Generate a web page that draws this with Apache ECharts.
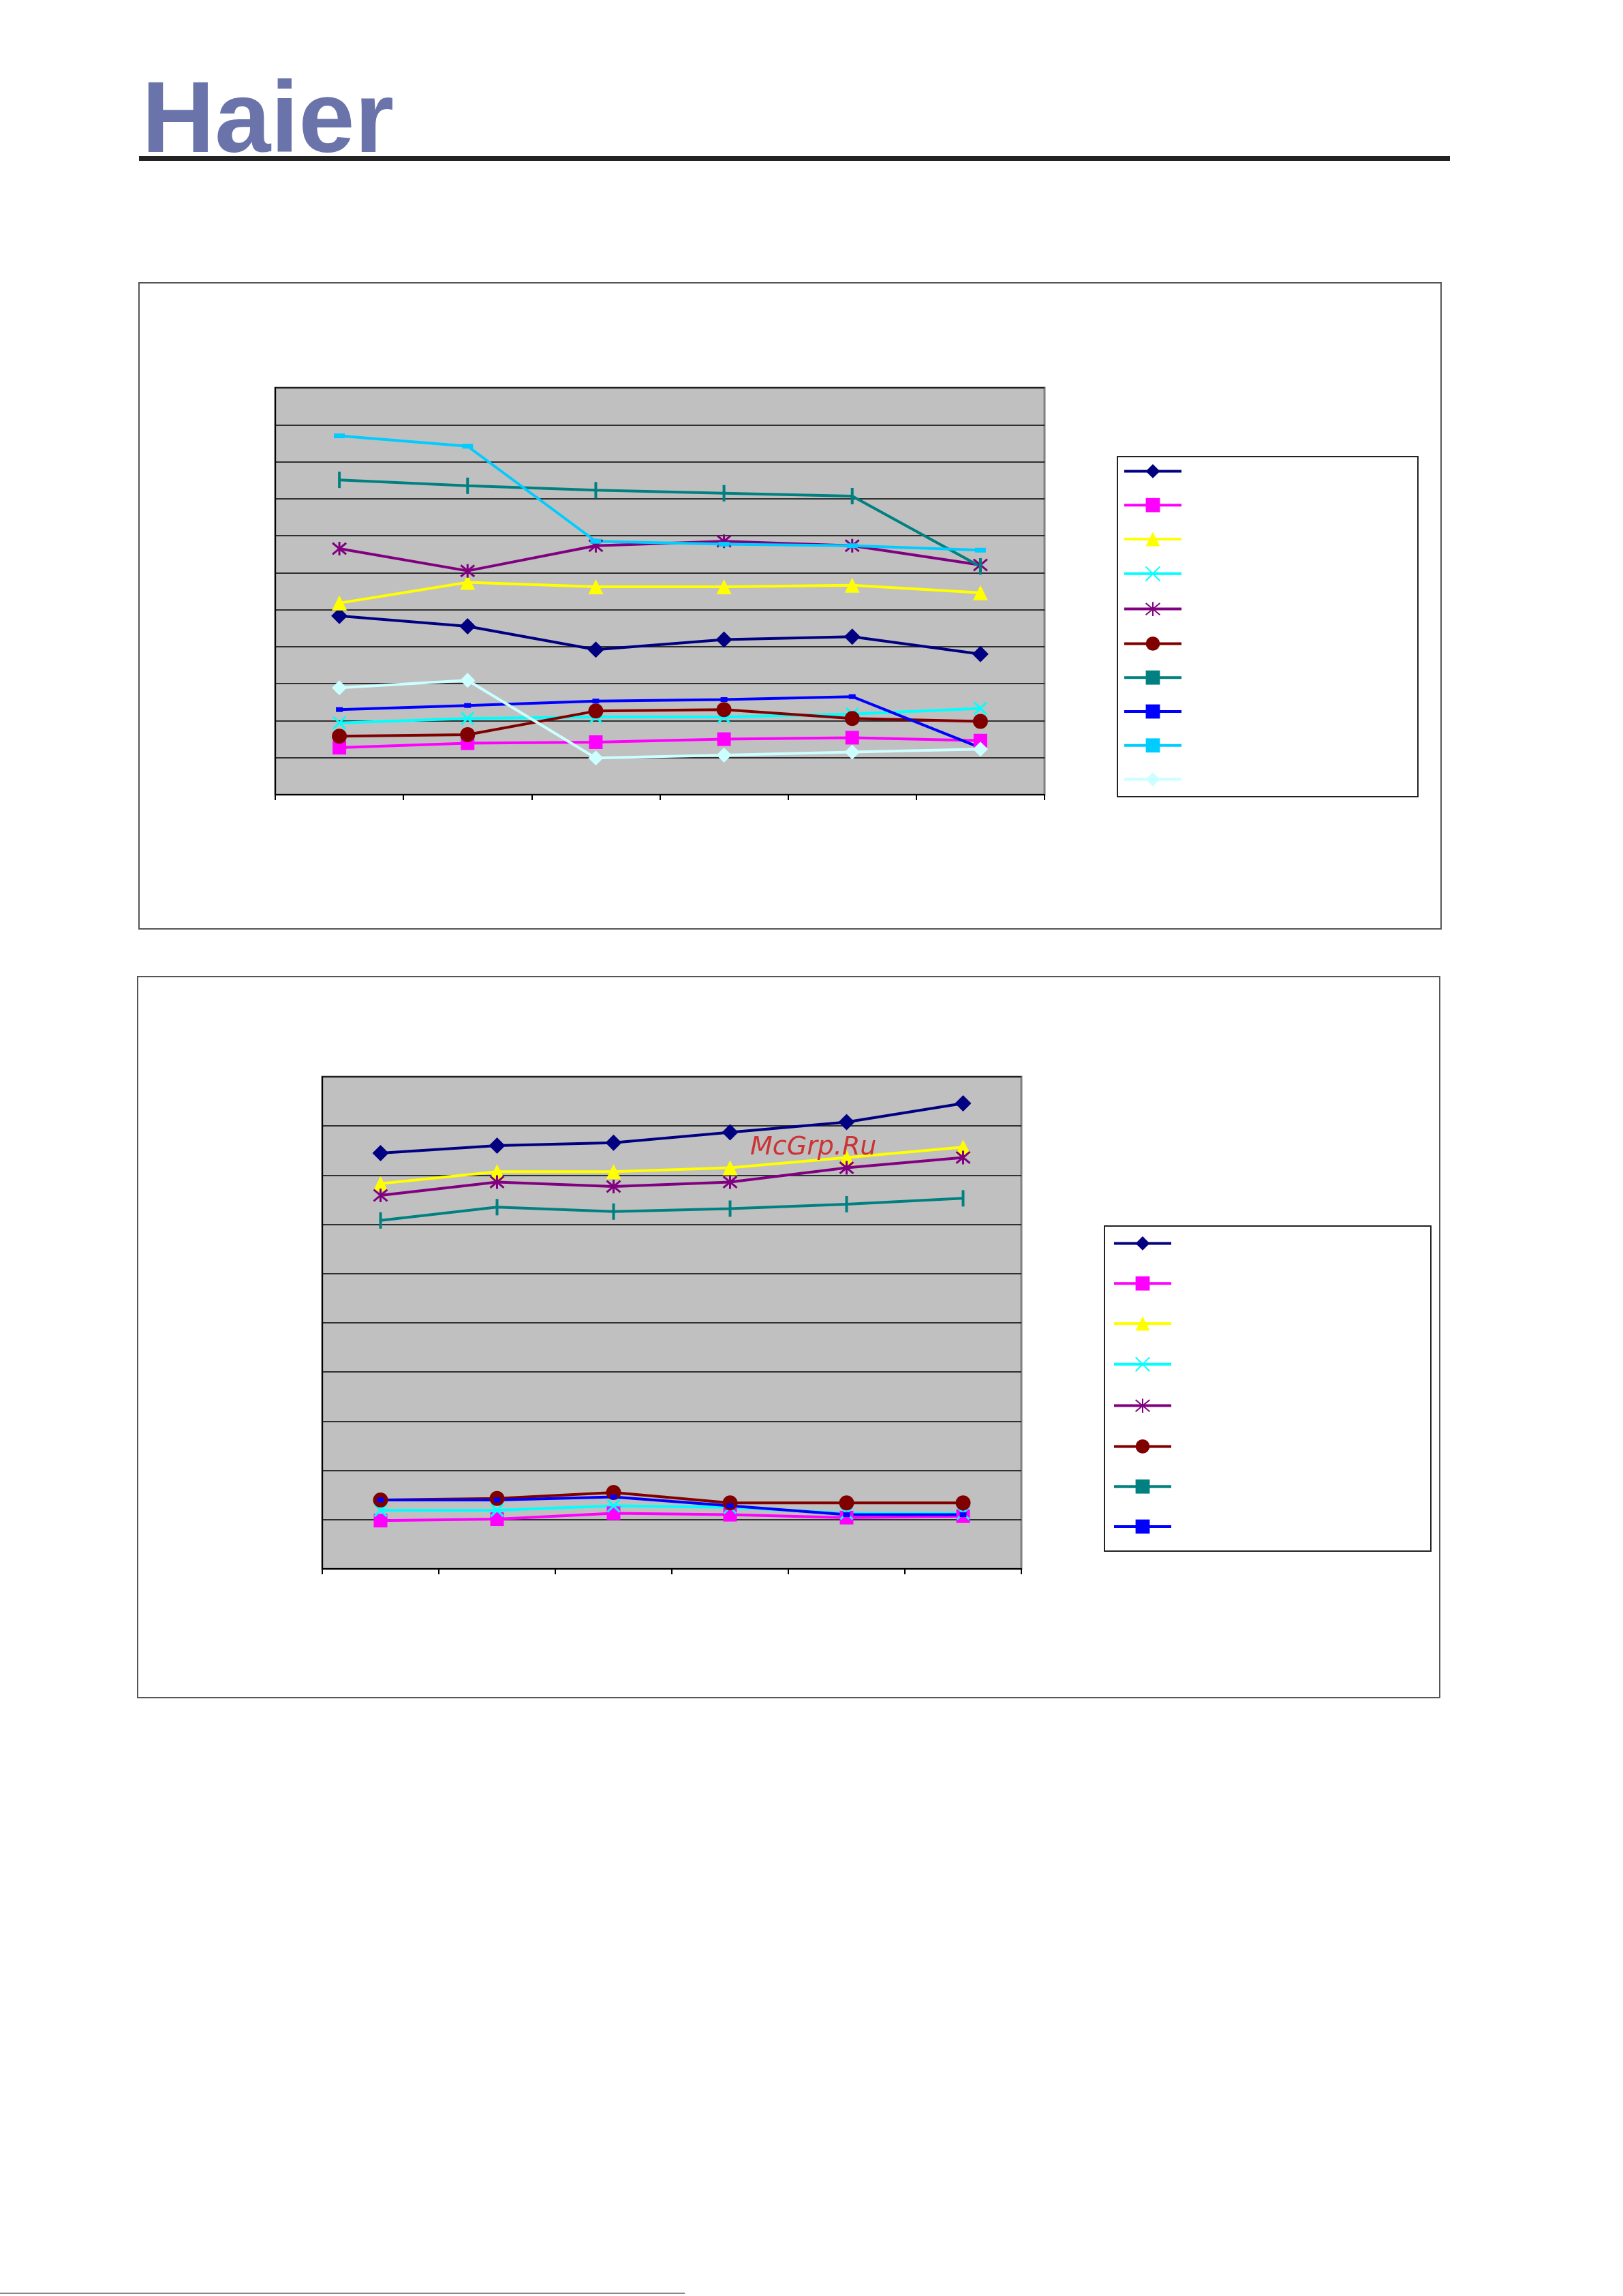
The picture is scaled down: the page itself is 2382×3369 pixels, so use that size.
<!DOCTYPE html>
<html><head><meta charset="utf-8">
<script src="https://cdn.jsdelivr.net/npm/echarts@6/dist/echarts.min.js"></script>
<style>html,body{margin:0;padding:0;background:#fff}#c{width:2382px;height:3369px}</style>
</head><body><div id="c"></div>
<script>
const categories = ['1','2','3','4','5','6'];
// Chart 1 series
const c1_navy = [4.83,4.55,3.92,4.19,4.27,3.80];
const c1_magenta = [1.27,1.39,1.42,1.50,1.54,1.46];
const c1_yellow = [5.18,5.74,5.62,5.62,5.66,5.46];
const c1_cyan = [1.94,2.06,2.10,2.10,2.18,2.33];
const c1_purple = [6.65,6.05,6.73,6.85,6.73,6.21];
const c1_darkred = [1.58,1.62,2.26,2.30,2.06,1.98];
const c1_teal = [8.51,8.35,8.23,8.15,8.07,6.17];
const c1_blue = [2.30,2.41,2.53,2.57,2.65,1.27];
const c1_sky = [9.70,9.42,6.85,6.77,6.73,6.61];
const c1_light = [2.89,3.09,0.99,1.07,1.15,1.23];
// Chart 2 series
const c2_navy = [8.45,8.60,8.66,8.87,9.08,9.46];
const c2_magenta = [0.98,1.01,1.13,1.10,1.04,1.07];
const c2_yellow = [7.83,8.07,8.07,8.15,8.36,8.57];
const c2_cyan = [1.19,1.19,1.28,1.25,1.13,1.13];
const c2_purple = [7.59,7.86,7.77,7.86,8.15,8.36];
const c2_darkred = [1.40,1.43,1.55,1.34,1.34,1.34];
const c2_teal = [7.08,7.35,7.26,7.32,7.41,7.53];
const c2_blue = [1.40,1.40,1.46,1.28,1.10,1.10];

const X_PATH='path://M0,0L10,10M10,0L0,10';
const STAR_PATH='path://M0,0L10,10M10,0L0,10M5,-1L5,11';
const styles = [
 {c:'#000080', s:'diamond', z:24},
 {c:'#ff00ff', s:'rect', z:20},
 {c:'#ffff00', s:'triangle', z:22},
 {c:'#00ffff', s:X_PATH, z:18, stroke:true},
 {c:'#800080', s:STAR_PATH, z:20, stroke:true},
 {c:'#800000', s:'circle', z:22},
 {c:'#008080', s:'rect', z:[4,24]},
 {c:'#0000ff', s:'rect', z:[10,7]},
 {c:'#00ccff', s:'rect', z:[16,7]},
 {c:'#ccffff', s:'diamond', z:22}
];
const chart1Data=[c1_navy,c1_magenta,c1_yellow,c1_cyan,c1_purple,c1_darkred,c1_teal,c1_blue,c1_sky,c1_light];
const chart2Data=[c2_navy,c2_magenta,c2_yellow,c2_cyan,c2_purple,c2_darkred,c2_teal,c2_blue];

function mk(data, gi, prefix){
  return data.map((d,i)=>{const st=styles[i];return {
    name:prefix+i, type:'line', xAxisIndex:gi, yAxisIndex:gi, data:d,
    symbol:st.s, symbolSize:st.z, showSymbol:true,
    lineStyle:{color:st.c,width:4},
    itemStyle:{color:st.c, borderColor:st.c, borderWidth: st.stroke?3:0},
    emphasis:{disabled:true}, animation:false
  };});
}
const series=[...mk(chart1Data,0,'a'),...mk(chart2Data,1,'b')];

function axisX(gi){return {type:'category',gridIndex:gi,data:categories,boundaryGap:true,
  axisLine:{lineStyle:{color:'#000',width:2}},axisTick:{show:true,length:8,lineStyle:{color:'#000',width:2}},
  axisLabel:{show:false}};}
function axisY(gi,max){return {type:'value',gridIndex:gi,min:0,max:max,interval:1,
  axisLine:{show:true,lineStyle:{color:'#000',width:2}},axisTick:{show:false},axisLabel:{show:false},
  splitLine:{lineStyle:{color:'#000',width:1.5}}};}

const chart=echarts.init(document.getElementById('c'));
chart.setOption({
  backgroundColor:'#fff', animation:false,
  grid:[
    {left:404,top:569,width:1129,height:597,show:true,backgroundColor:'#c0c0c0',borderColor:'#808080',borderWidth:3},
    {left:473,top:1580,width:1026,height:722,show:true,backgroundColor:'#c0c0c0',borderColor:'#808080',borderWidth:3}
  ],
  xAxis:[axisX(0),axisX(1)],
  yAxis:[axisY(0,11),axisY(1,10)],
  legend:[
    {data:series.slice(0,10).map(s=>s.name),orient:'vertical',left:1648,top:681,itemWidth:84,itemHeight:26,itemGap:29,lineStyle:{width:4},formatter:()=>' ',textStyle:{fontSize:12},padding:0,selectedMode:false},
    {data:series.slice(10).map(s=>s.name),orient:'vertical',left:1633,top:1814,itemWidth:84,itemHeight:26,itemGap:38,lineStyle:{width:4},formatter:()=>' ',textStyle:{fontSize:12},padding:0,selectedMode:false}
  ],
  graphic:[
    {type:'text',left:208,top:108,style:{text:'Haier',font:'bold 148px "Liberation Sans"',fill:'#6a74aa'}},
    {type:'rect',shape:{x:204,y:229,width:1924,height:7},style:{fill:'#222'}},
    {type:'rect',shape:{x:204,y:415,width:1911,height:948},style:{fill:'none',stroke:'#555',lineWidth:2}},
    {type:'rect',shape:{x:202,y:1433,width:1911,height:1058},style:{fill:'none',stroke:'#555',lineWidth:2}},
    {type:'rect',shape:{x:1640,y:670,width:441,height:499},style:{fill:'none',stroke:'#222',lineWidth:2}},
    {type:'rect',shape:{x:1621,y:1799,width:479,height:477},style:{fill:'none',stroke:'#222',lineWidth:2}},
    {type:'text',left:1101,top:1665,style:{text:'McGrp.Ru',font:'italic 38px "DejaVu Sans"',fill:'#cc3333'},z:100},
    {type:'rect',shape:{x:0,y:3364,width:1005,height:2},style:{fill:'#888'}}
  ],
  series:series
});
</script></body></html>
